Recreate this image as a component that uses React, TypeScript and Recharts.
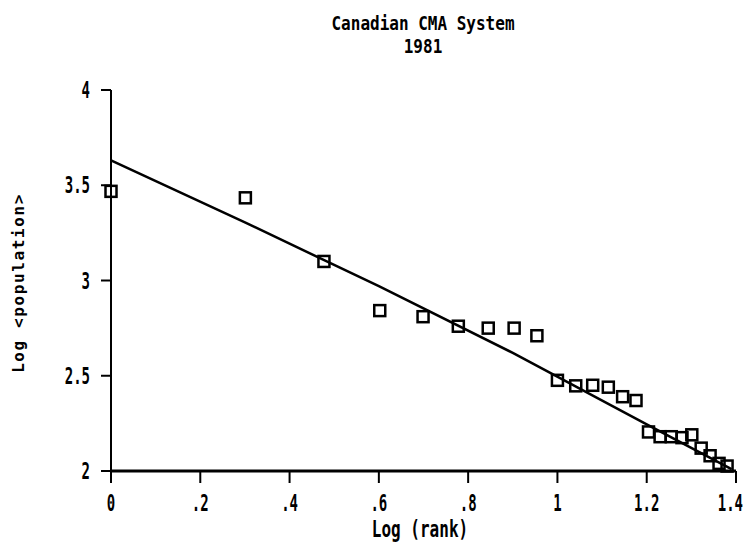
import React from "react";
import { ComposedChart, Scatter, XAxis, YAxis } from "recharts";

if (typeof document !== "undefined") {
  document.documentElement.style.overflow = "hidden";
}

// log10(rank) for the 24 CMAs
const rankLog = [
  0, 0.301, 0.477, 0.602, 0.699, 0.778, 0.845, 0.903, 0.954, 1.0, 1.041, 1.079,
  1.114, 1.146, 1.176, 1.204, 1.23, 1.255, 1.279, 1.301, 1.322, 1.342, 1.362, 1.38,
];
// log(population)
const logPop = [
  3.468, 3.434, 3.1, 2.842, 2.81, 2.76, 2.75, 2.75, 2.71, 2.476, 2.447, 2.45,
  2.44, 2.39, 2.37, 2.205, 2.18, 2.18, 2.175, 2.19, 2.12, 2.08, 2.04, 2.026,
];
// fitted line
const fitX = [0, 0.3, 0.6, 0.9, 1.2, 1.39];
const fitY = [3.63, 3.305, 2.97, 2.62, 2.245, 2.01];

const xTicks = [0, 0.2, 0.4, 0.6, 0.8, 1.0, 1.2, 1.4];
const xTickLabels = ["0", ".2", ".4", ".6", ".8", "1", "1.2", "1.4"];
const yTicks = [2, 2.5, 3, 3.5, 4];
const yTickLabels = ["2", "2.5", "3", "3.5", "4"];

const titleLines = ["Canadian CMA System", "1981"];
const xLabel = "Log (rank)";
const yLabel = "Log <population>";

const points = rankLog.map((x, i) => ({ x, y: logPop[i] }));
const fit = fitX.map((x, i) => ({ x, y: fitY[i] }));

const FONT = "'DejaVu Sans Mono', monospace";

const XTick = (props: any) => {
  const { x, payload } = props;
  const idx = xTicks.findIndex((t) => Math.abs(t - payload.value) < 1e-6);
  const label = idx >= 0 ? xTickLabels[idx] : String(payload.value);
  const last = idx === xTicks.length - 1;
  return (
    <text
      transform={`translate(${last ? x + 7 : x},503) scale(1,1.6)`}
      x={0}
      y={0}
      textAnchor={last ? "end" : "middle"}
      fontFamily={FONT}
      fontWeight="bold"
      fontSize={14}
      fill="#000"
    >
      {label}
    </text>
  );
};

const YTick = (props: any) => {
  const { x, y, payload } = props;
  const idx = yTicks.findIndex((t) => Math.abs(t - payload.value) < 1e-6);
  const label = idx >= 0 ? yTickLabels[idx] : String(payload.value);
  return (
    <text
      transform={`translate(${x},${y + 8}) scale(1,1.6)`}
      x={0}
      y={0}
      textAnchor="end"
      fontFamily={FONT}
      fontWeight="bold"
      fontSize={14}
      fill="#000"
    >
      {label}
    </text>
  );
};

const SquareShape = (props: any) => {
  const { cx, cy } = props;
  if (cx == null || cy == null) return <g />;
  return (
    <rect
      x={cx - 5.5}
      y={cy - 5.5}
      width={11}
      height={11}
      fill="none"
      stroke="#000"
      strokeWidth={2.5}
    />
  );
};

const NoShape = () => <g />;

export default function App() {
  return (
    <div style={{ position: "relative", width: 735, height: 536, background: "#fff" }}>
      <div
        style={{
          position: "absolute",
          left: 215,
          width: 400,
          top: 8.65,
          height: 37.7,
          lineHeight: "18.85px",
          textAlign: "center",
          fontFamily: FONT,
          fontWeight: "bold",
          fontSize: 16,
          color: "#000",
          transform: "scaleY(1.22)",
          transformOrigin: "center",
          whiteSpace: "pre",
        }}
      >
        {titleLines[0]}
        <br />
        {titleLines[1]}
      </div>
      <ComposedChart
        width={735}
        height={536}
        margin={{ top: 82, right: 7, bottom: 33, left: 43 }}
      >
        <XAxis
          type="number"
          dataKey="x"
          domain={[0, 1.4]}
          ticks={xTicks}
          interval={0}
          height={40}
          axisLine={{ stroke: "#000", strokeWidth: 3 }}
          tickLine={{ stroke: "#000", strokeWidth: 2 }}
          tickSize={12}
          tick={<XTick />}
          label={{
            content: () => (
              <text
                transform="translate(412,529) scale(1,1.4)"
                x={0}
                y={0}
                textAnchor="middle"
                fontFamily={FONT}
                fontWeight="bold"
                fontSize={16}
                fill="#000"
              >
                {xLabel}
              </text>
            ),
          }}
        />
        <YAxis
          type="number"
          dataKey="y"
          domain={[2, 4]}
          ticks={yTicks}
          interval={0}
          width={60}
          axisLine={{ stroke: "#000", strokeWidth: 2 }}
          tickLine={{ stroke: "#000", strokeWidth: 2 }}
          tickSize={10}
          tickMargin={11}
          tick={<YTick />}
          label={{
            content: () => (
              <text
                transform="translate(10,275) rotate(-90)"
                x={0}
                y={0}
                textAnchor="middle"
                dominantBaseline="central"
                fontFamily={FONT}
                fontWeight="bold"
                fontSize={16}
                letterSpacing={1.6}
                fill="#000"
              >
                {yLabel}
              </text>
            ),
          }}
        />
        <Scatter
          data={fit}
          line={{ stroke: "#000", strokeWidth: 2.5 }}
          lineType="joint"
          shape={<NoShape />}
          isAnimationActive={false}
        />
        <Scatter data={points} shape={<SquareShape />} isAnimationActive={false} />
      </ComposedChart>
    </div>
  );
}
